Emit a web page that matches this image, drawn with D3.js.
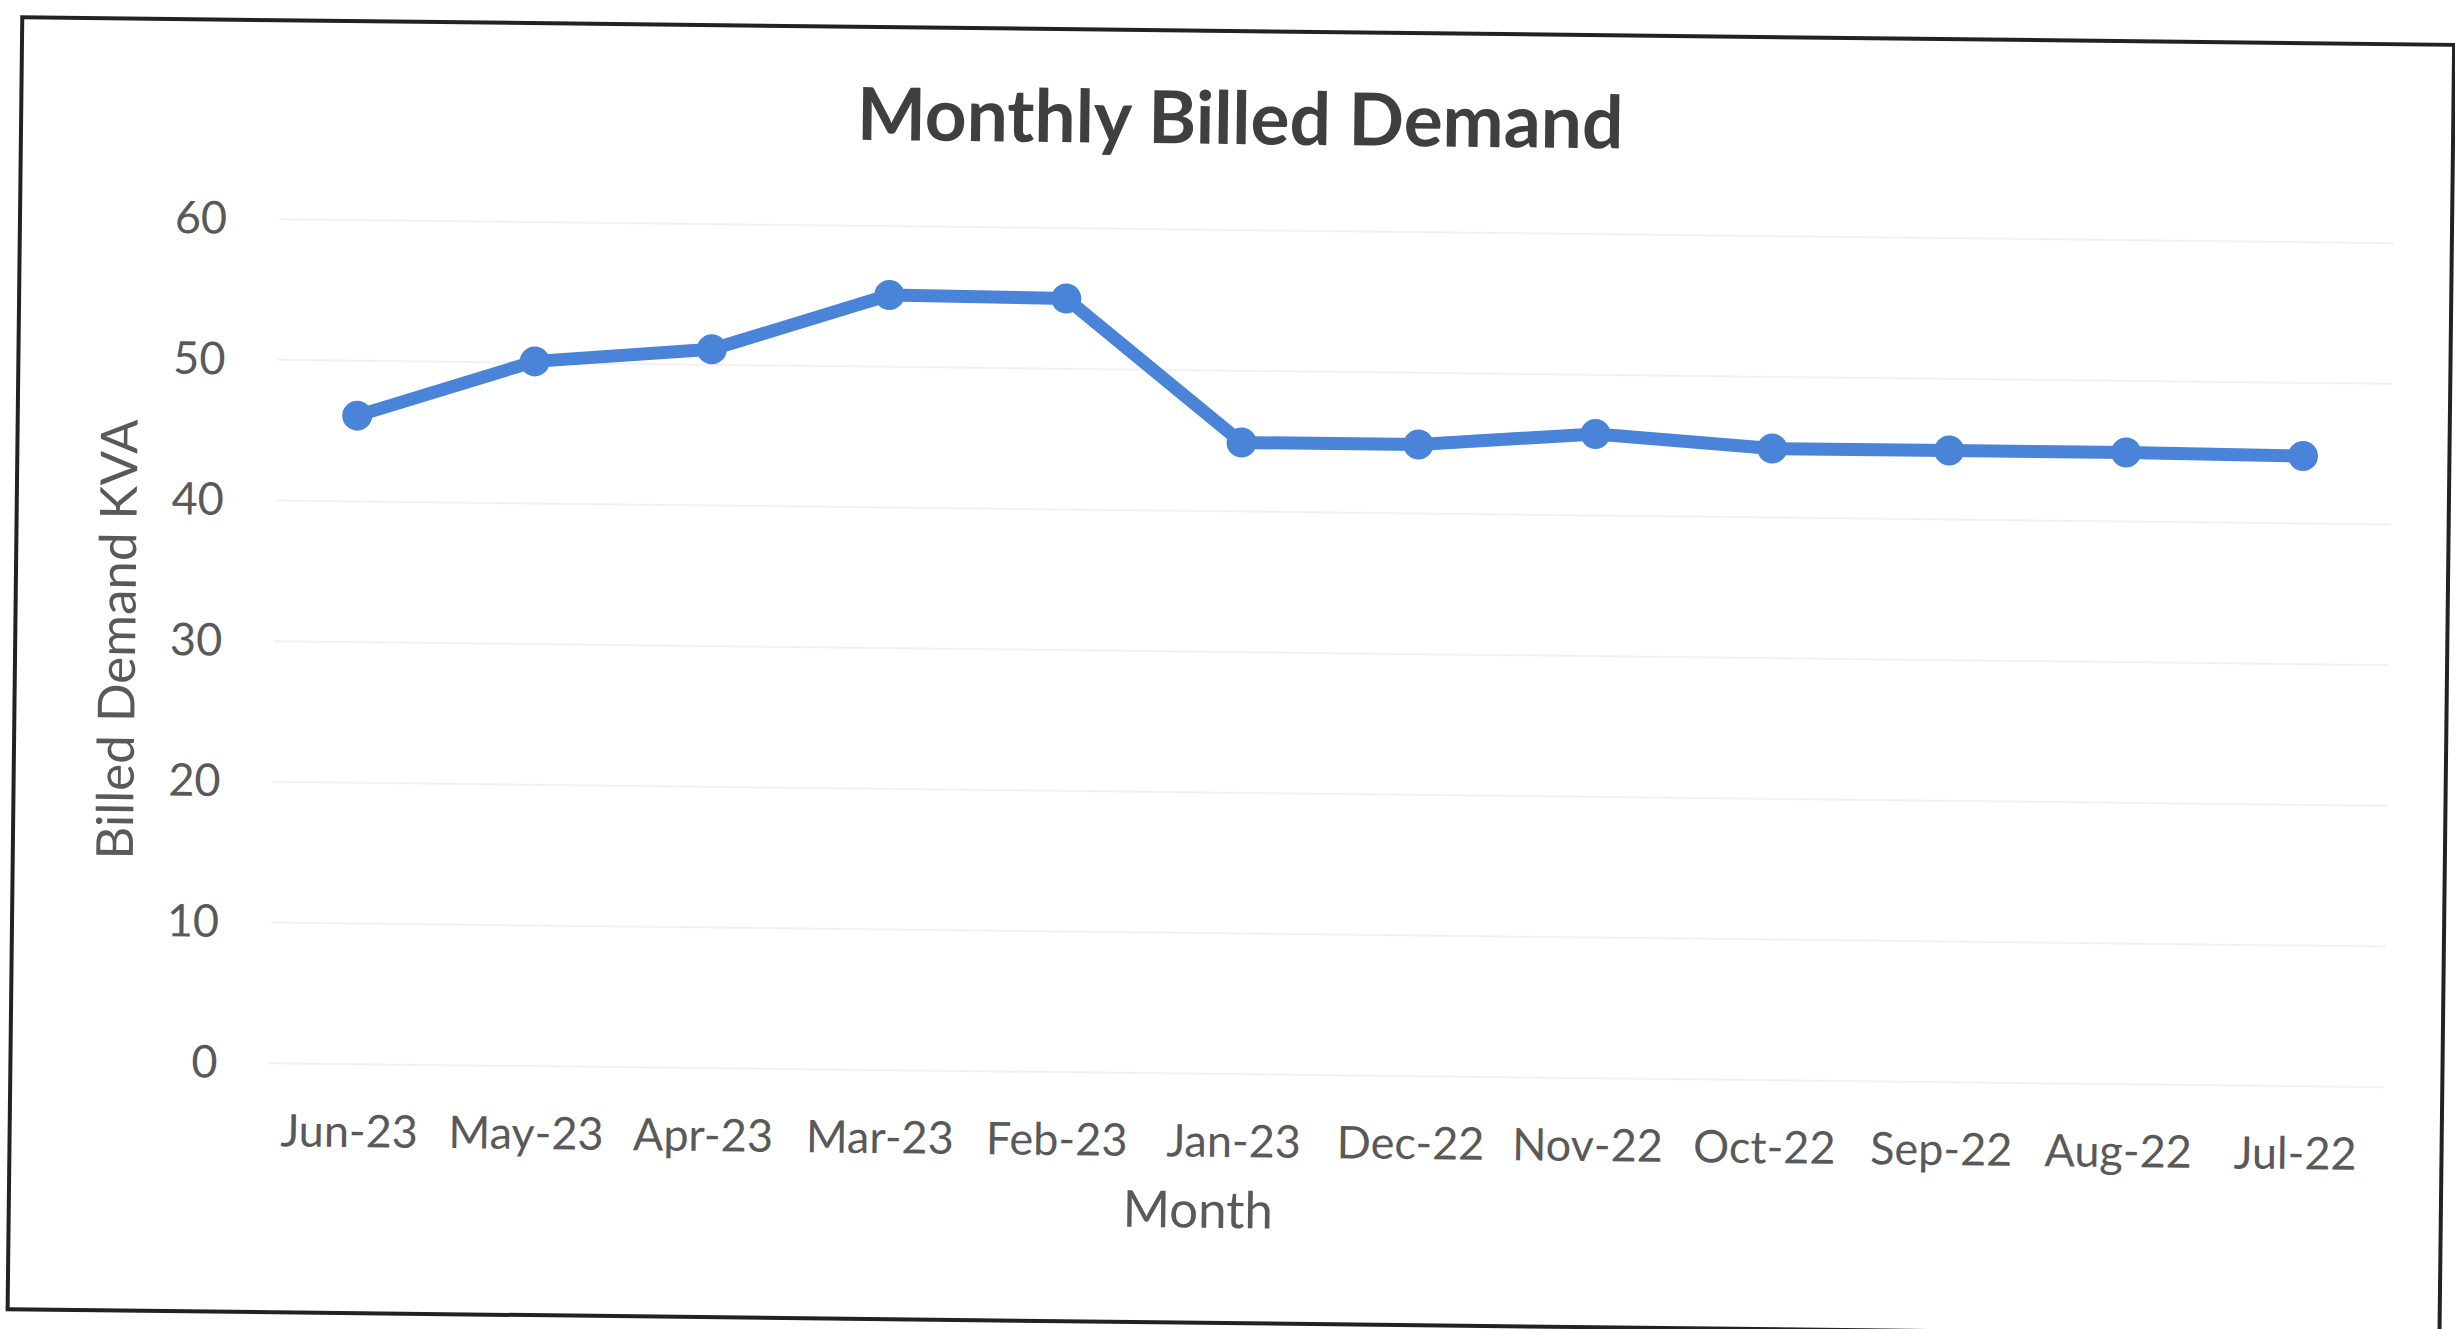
<!DOCTYPE html>
<html>
<head>
<meta charset="utf-8">
<script src="https://cdn.jsdelivr.net/npm/d3@7/dist/d3.min.js"></script>
<style>
  html, body { margin: 0; padding: 0; background: #ffffff; }
  svg { display: block; }
  text { font-family: Lato, "Open Sans", sans-serif; }
</style>
</head>
<body>
<svg id="chart" width="2455" height="1329"></svg>
<script>
// Billed demand by month, most recent first
const months = ["Jun-23", "May-23", "Apr-23", "Mar-23", "Feb-23", "Jan-23",
                "Dec-22", "Nov-22", "Oct-22", "Sep-22", "Aug-22", "Jul-22"];
const demandKVA = [46.1, 50.1, 51.1, 55.1, 55.0, 44.9, 44.9, 45.8, 44.9, 44.9, 44.9, 44.8];
const yTicks = [0, 10, 20, 30, 40, 50, 60];

const chartTitle = "Monthly Billed Demand";
const xTitle = "Month";
const yTitle = "Billed Demand KVA";

const W = 2455, H = 1329;
const plot = { left: 266, right: 2389, top: 230, bottom: 1074 };
const lineColor = "#4a84d8";
const textColor = "#595959";

const svg = d3.select("#chart");
svg.append("rect").attr("width", W).attr("height", H).attr("fill", "#ffffff");

// whole sheet sits at a slight tilt
const root = svg.append("g").attr("transform", "rotate(0.65, 1228, 665)");

// outer chart border
root.append("rect")
  .attr("x", 15).attr("y", 31)
  .attr("width", 2432).attr("height", 1292)
  .attr("fill", "#ffffff")
  .attr("stroke", "#222222")
  .attr("stroke-width", 4);

const x = d3.scaleBand().domain(months).range([plot.left, plot.right]).padding(0);
const y = d3.scaleLinear().domain([0, 60]).range([plot.bottom, plot.top]);
const cx = d => x(d) + x.bandwidth() / 2;

// horizontal gridlines
root.append("g")
  .selectAll("line")
  .data(yTicks)
  .join("line")
  .attr("x1", plot.left + 8).attr("x2", plot.right)
  .attr("y1", d => y(d)).attr("y2", d => y(d))
  .attr("stroke", "#f3f0f4")
  .attr("stroke-width", 2);

// y axis labels
const yAxis = root.append("g")
  .attr("transform", `translate(${plot.left},0)`)
  .call(d3.axisLeft(y).tickValues(yTicks).tickSize(0).tickPadding(44));
yAxis.select(".domain").remove();
yAxis.selectAll("text")
  .attr("fill", textColor)
  .attr("font-size", 45)
  .attr("font-family", "Lato, sans-serif");

// x axis labels
const xAxis = root.append("g")
  .attr("transform", `translate(0,${plot.bottom})`)
  .call(d3.axisBottom(x).tickSize(0).tickPadding(51));
xAxis.select(".domain").remove();
xAxis.selectAll("text")
  .attr("fill", textColor)
  .attr("font-size", 45)
  .attr("font-family", "Lato, sans-serif");

// demand line
const line = d3.line()
  .x((d, i) => cx(months[i]))
  .y(d => y(d));

root.append("path")
  .datum(demandKVA)
  .attr("d", line)
  .attr("fill", "none")
  .attr("stroke", lineColor)
  .attr("stroke-width", 13)
  .attr("stroke-linejoin", "round")
  .attr("stroke-linecap", "round");

// markers
root.append("g")
  .selectAll("circle")
  .data(demandKVA)
  .join("circle")
  .attr("cx", (d, i) => cx(months[i]))
  .attr("cy", d => y(d))
  .attr("r", 15)
  .attr("fill", lineColor);

// titles
root.append("text")
  .attr("x", 1234).attr("y", 144)
  .attr("text-anchor", "middle")
  .attr("font-size", 73)
  .attr("font-weight", 700)
  .attr("fill", "#3f3f3f")
  .text(chartTitle);

root.append("text")
  .attr("x", 1204).attr("y", 1228)
  .attr("text-anchor", "middle")
  .attr("font-size", 51)
  .attr("fill", textColor)
  .text(xTitle);

root.append("text")
  .attr("transform", "translate(135,652) rotate(-90)")
  .attr("text-anchor", "middle")
  .attr("font-size", 51)
  .attr("fill", textColor)
  .text(yTitle);
</script>
</body>
</html>
